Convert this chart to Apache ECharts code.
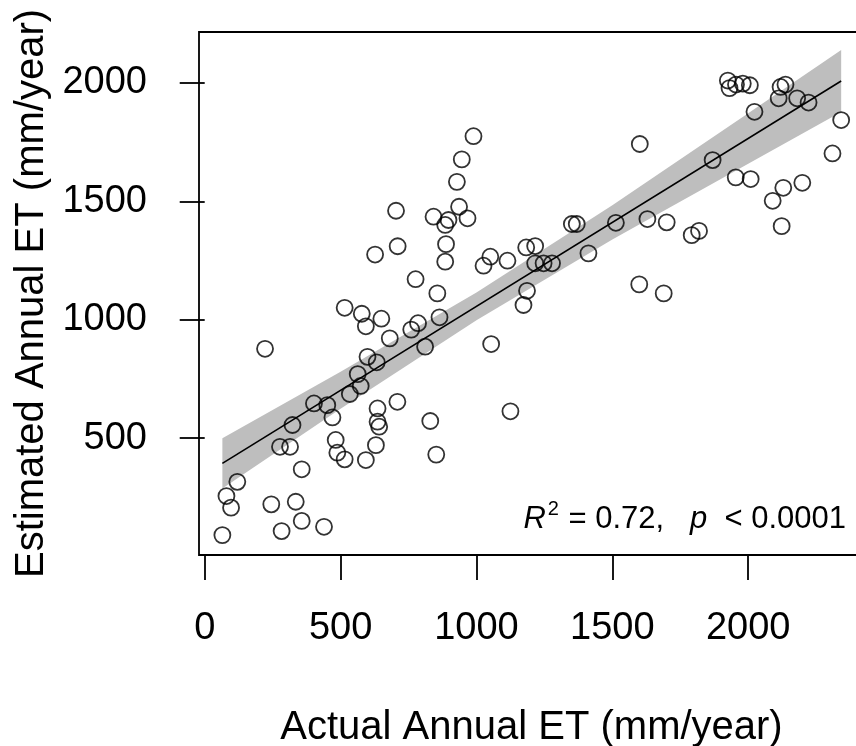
<!DOCTYPE html>
<html><head><meta charset="utf-8">
<script src="https://cdn.jsdelivr.net/npm/echarts@6/dist/echarts.min.js"></script>
<style>html,body{margin:0;padding:0;background:#fff}#c{width:856px;height:746px}</style>
</head><body><div id="c"></div>
<script>
const actualET = [65,80,97,120,245,283,335,357,439,357,277,314,323,402,451,470,482,488,515,534,574,593,636,636,642,630,709,222,515,578,593,650,681,627,710,776,760,785,811,599,633,563,704,830,852,
989,946,928,936,842,885,897,967,888,885,856,864,1026,1051,1114,1183,1216,1216,1247,1278,1186,1173,1054,1125,1351,1369,1412,
1513,1601,1629,1700,1599,1689,1792,1819,1869,1954,2009,2090,2129,2199,2123,2310,2342,2023,1925,1931,1955,1980,2006,2119,2137,2112,2180,2222];
const estimatedET = [90,255,206,315,220,107,231,150,125,368,463,463,555,646,639,587,492,438,410,686,720,407,625,569,548,470,653,877,1050,1025,972,1004,921,1275,1310,1171,958,985,886,843,820,770,1460,572,430,
1775,1677,1582,1477,1435,1400,1421,1428,1319,1245,1111,1010,1228,1266,1249,1305,1311,1238,1238,1238,1122,1062,897,613,1404,1404,1280,
1409,1742,1425,1411,1149,1111,1357,1375,1674,1601,1594,1502,1557,1578,1395,1702,1843,1878,2010,1978,1993,1997,1990,1983,1993,1935,1935,1917];
const xTicks = [0, 500, 1000, 1500, 2000];
const yTicks = [500, 1000, 1500, 2000];
const fitX = [65, 2342];
const fitY = [393, 2008];
const bandX = [65, 500, 1000, 1500, 2000, 2342];
const bandLower = [287, 624, 997, 1339, 1658, 1877];
const bandUpper = [499, 780, 1115, 1483, 1872, 2139];

const FONT = '"Liberation Sans", Arial, sans-serif';
const chart = echarts.init(document.getElementById('c'), null, {renderer: 'canvas'});
const points = actualET.map((x, i) => [x, estimatedET[i]]);
const fitData = fitX.map((x, i) => [x, fitY[i]]);
const plain = v => String(v);

chart.setOption({
  animation: false,
  backgroundColor: '#fff',
  grid: {left: 199, top: 32, right: -8, bottom: 191, show: true, borderColor: '#000', borderWidth: 1.8,
         backgroundColor: 'transparent', containLabel: false, outerBoundsMode: 'none'},
  xAxis: {
    type: 'value', min: -21, max: 2426,
    axisLine: {show: false},
    splitLine: {show: false},
    axisTick: {show: true, customValues: xTicks, length: 25, inside: false, lineStyle: {color: '#000', width: 1.8}},
    axisLabel: {customValues: xTicks, formatter: plain, margin: 55, fontSize: 38, color: '#000', fontFamily: FONT},
    name: 'Actual Annual ET (mm/year)', nameLocation: 'middle', nameGap: 153,
    nameTextStyle: {fontSize: 40, color: '#000', fontFamily: FONT}
  },
  yAxis: {
    type: 'value', min: 6, max: 2215,
    axisLine: {show: false},
    splitLine: {show: false},
    axisTick: {show: true, customValues: yTicks, length: 25, inside: false, lineStyle: {color: '#000', width: 1.8}},
    axisLabel: {customValues: yTicks, formatter: plain, margin: 52, fontSize: 38, color: '#000', fontFamily: FONT},
    name: 'Estimated Annual ET (mm/year)', nameLocation: 'middle', nameGap: 146,
    nameTextStyle: {fontSize: 40, color: '#000', fontFamily: FONT}
  },
  series: [
    {
      type: 'custom', silent: true, z: 1,
      data: [[bandX[0], bandLower[0]]],
      renderItem: function (params, api) {
        const pts = [];
        for (let i = 0; i < bandX.length; i++) pts.push(api.coord([bandX[i], bandUpper[i]]));
        for (let i = bandX.length - 1; i >= 0; i--) pts.push(api.coord([bandX[i], bandLower[i]]));
        return {type: 'polygon', shape: {points: pts}, style: {fill: '#bebebe'}};
      }
    },
    {
      type: 'line', data: fitData, symbol: 'none', z: 2, silent: true,
      lineStyle: {color: '#000', width: 1.6}
    },
    {
      type: 'scatter', data: points, symbol: 'circle', symbolSize: 16, z: 3,
      itemStyle: {color: 'rgba(0,0,0,0)', borderColor: '#000', borderWidth: 1.8}
    }
  ],
  graphic: [{
    type: 'text', z: 10,
    style: {
      x: 846, y: 519, align: 'right', verticalAlign: 'middle',
      text: '{i|R}{s|2}{n| = 0.72,   }{i|p}{n|  < 0.0001}',
      rich: {
        n: {fontSize: 31, fontFamily: FONT, fill: '#000', color: '#000', lineHeight: 36},
        i: {fontSize: 31, fontFamily: FONT, fontStyle: 'italic', fill: '#000', color: '#000', lineHeight: 36},
        s: {fontSize: 20, fontFamily: FONT, fill: '#000', color: '#000', lineHeight: 20, padding: [0, 1, 20, 2]}
      }
    }
  }]
});
</script></body></html>
